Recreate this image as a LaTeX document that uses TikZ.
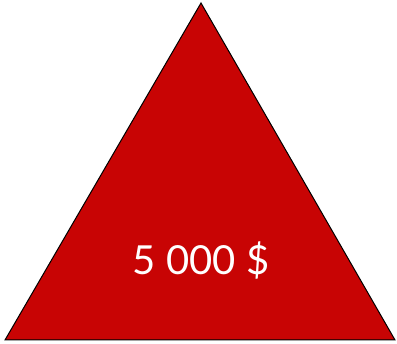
\documentclass[tikz,border=0pt]{standalone}
\usepackage{fontspec}
\setmainfont{Lato}
\definecolor{tri}{HTML}{C80404}
\begin{document}
\begin{tikzpicture}[x=1pt,y=1pt,
  tristyle/.style={fill=tri,draw=black,line width=1pt,line join=miter},
  lbl/.style={text=white,font=\fontsize{40}{42}\selectfont,anchor=center,inner sep=0pt}]
\useasboundingbox (0,0) rectangle (397,344);
\coordinate (apex) at (201,341);
\coordinate (bl) at (5,4);
\coordinate (br) at (395,4);
\draw[tristyle] (apex) -- (br) -- (bl) -- cycle;
\node[lbl] (t) at (201,84) {5 000 \$};
\end{tikzpicture}
\end{document}
